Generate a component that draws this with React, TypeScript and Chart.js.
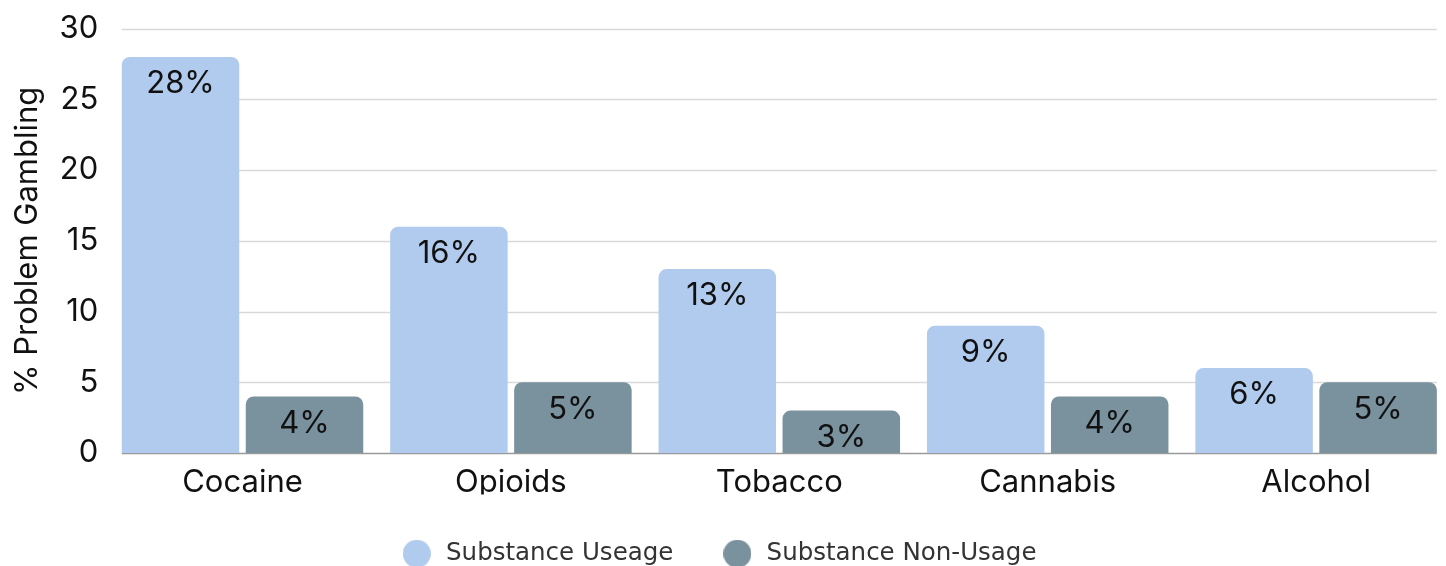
import React, { useEffect, useRef } from "react";
import { Chart, registerables } from "chart.js";

Chart.register(...registerables);

const categories = ["Cocaine", "Opioids", "Tobacco", "Cannabis", "Alcohol"];
const usageValues = [28, 16, 13, 9, 6];
const nonUsageValues = [4, 5, 3, 4, 5];
const seriesNames = ["Substance Useage", "Substance Non-Usage"];
const seriesColors = ["#b1cbee", "#7a929e"];
const yTicks = [0, 5, 10, 15, 20, 25, 30];
const yTitle = "% Problem Gambling";

const FONT = "Inter, 'Noto Sans', sans-serif";
const SHIFT = 14; // canvas starts this far left of the page edge

function circleImage(color: string, d: number) {
  const c = document.createElement("canvas");
  c.width = d;
  c.height = d;
  const g = c.getContext("2d")!;
  g.fillStyle = color;
  g.beginPath();
  g.arc(d / 2, d / 2, d / 2, 0, Math.PI * 2);
  g.fill();
  return c;
}

const gridPlugin = {
  id: "customGrid",
  beforeDatasetsDraw(chart: any) {
    const { ctx } = chart;
    const y = chart.scales.y;
    const m0 = chart.getDatasetMeta(0).data;
    const m1 = chart.getDatasetMeta(chart.data.datasets.length - 1).data;
    if (!m0.length || !m1.length) return;
    const first = m0[0];
    const last = m1[m1.length - 1];
    const x1 = first.x - first.width / 2;
    const x2 = last.x + last.width / 2;
    ctx.save();
    y.ticks.forEach((t: any) => {
      const py = Math.round(y.getPixelForValue(t.value)) + 0.5;
      ctx.beginPath();
      ctx.strokeStyle = t.value === 0 ? "#9a9a9a" : "#d9d9d9";
      ctx.lineWidth = 1.5;
      ctx.moveTo(x1, py);
      ctx.lineTo(x2, py);
      ctx.stroke();
    });
    ctx.restore();
  },
};

const labelPlugin = {
  id: "barLabels",
  afterDatasetsDraw(chart: any) {
    const { ctx } = chart;
    ctx.save();
    ctx.font = `400 31px ${FONT}`;
    ctx.fillStyle = "#111111";
    ctx.textAlign = "center";
    ctx.textBaseline = "middle";
    chart.data.datasets.forEach((ds: any, di: number) => {
      const meta = chart.getDatasetMeta(di);
      meta.data.forEach((bar: any, i: number) => {
        ctx.fillText(`${ds.data[i]}%`, bar.x, bar.y + 27);
      });
    });
    ctx.restore();
  },
};

export default function App() {
  const ref = useRef<HTMLCanvasElement>(null);
  useEffect(() => {
    if (!ref.current) return;
    const icons = seriesColors.map((c) => circleImage(c, 28));
    const chart = new Chart(ref.current, {
      type: "bar",
      data: {
        labels: categories,
        datasets: [
          {
            label: seriesNames[0],
            data: usageValues,
            backgroundColor: seriesColors[0],
            borderRadius: 8,
            borderSkipped: "start",
            categoryPercentage: 0.924,
            barPercentage: 0.9476,
          },
          {
            label: seriesNames[1],
            data: nonUsageValues,
            backgroundColor: seriesColors[1],
            borderRadius: 8,
            borderSkipped: "start",
            categoryPercentage: 0.924,
            barPercentage: 0.9476,
          },
        ],
      },
      options: {
        animation: false,
        responsive: false,
        layout: { padding: { top: 28, right: 9.7, left: 0, bottom: 0 } },
        plugins: {
          tooltip: { enabled: false },
          legend: {
            position: "bottom",
            labels: {
              usePointStyle: true,
              pointStyleWidth: 34,
              boxHeight: 20,
              padding: 47,
              color: "#333333",
              font: { family: "'DejaVu Sans', sans-serif", size: 24.5 },
              generateLabels: (ch: any) =>
                Chart.defaults.plugins.legend.labels
                  .generateLabels(ch)
                  .map((it: any, i: number) => ({ ...it, pointStyle: icons[i] })),
            },
          },
        },
        scales: {
          x: {
            grid: { display: false, drawTicks: false },
            border: { display: false },
            ticks: {
              color: "#111111",
              padding: 11,
              font: { family: FONT, size: 31 },
            },
            afterFit: (s: any) => {
              s.height = 41.5;
            },
          },
          y: {
            min: 0,
            max: 30,
            afterBuildTicks: (s: any) => {
              s.ticks = yTicks.map((v) => ({ value: v }));
            },
            grid: { display: false, drawTicks: false },
            border: { display: false },
            ticks: {
              color: "#111111",
              padding: 10,
              font: { family: FONT, size: 31 },
            },
            title: {
              display: true,
              text: yTitle,
              color: "#111111",
              padding: { top: 9 + SHIFT, bottom: 0 },
              font: { family: FONT, size: 31 },
            },
            afterFit: (s: any) => {
              s.width = 108.3 + SHIFT;
            },
          },
        },
      },
      plugins: [gridPlugin, labelPlugin],
    });
    return () => chart.destroy();
  }, []);
  return (
    <div
      style={{
        position: "absolute",
        left: 0,
        top: 0,
        width: 1446,
        height: 566,
        overflow: "hidden",
        background: "#ffffff",
      }}
    >
      <canvas
        ref={ref}
        width={1474}
        height={576}
        style={{ width: 1474, height: 576, display: "block", marginLeft: -SHIFT }}
      />
    </div>
  );
}
